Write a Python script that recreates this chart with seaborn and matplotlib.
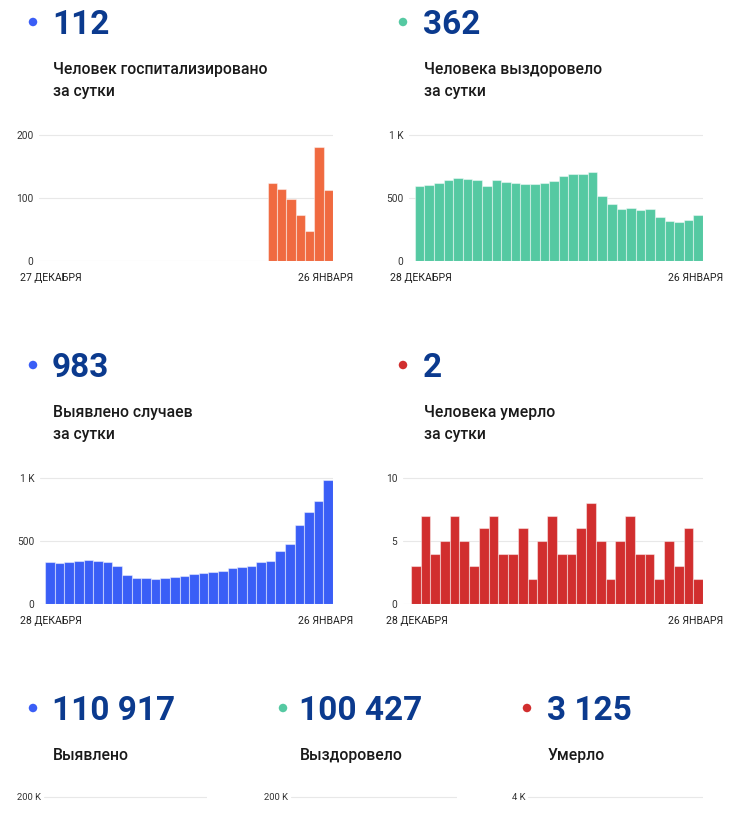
import numpy as np
import pandas as pd
import matplotlib
matplotlib.use("Agg")
import matplotlib.pyplot as plt
import seaborn as sns
from matplotlib.patches import Ellipse

# ---- data ----
days_dec27 = pd.date_range("2020-12-27", "2021-01-26").strftime("%d.%m").tolist()   # 31 days
days_dec28 = days_dec27[1:]                                                        # 30 days

hosp_days = days_dec27[-7:]
hosp_vals = [123, 114, 98, 73, 48, 181, 112]

recov_vals = [592, 603, 621, 642, 661, 653, 642, 597, 639, 626,
              621, 613, 608, 616, 637, 671, 687, 689, 705, 513,
              450, 411, 416, 403, 408, 347, 318, 308, 324, 362]

cases_vals = [329, 326, 334, 339, 347, 339, 332, 300, 232, 203,
              205, 200, 203, 213, 224, 234, 245, 253, 261, 282,
              292, 303, 329, 339, 418, 474, 624, 729, 813, 983]

death_vals = [3, 7, 4, 5, 7, 5, 3, 6, 7, 4,
              4, 6, 2, 5, 7, 4, 4, 6, 8, 5,
              2, 5, 7, 4, 4, 2, 5, 3, 6, 2]

head_numbers = ["112", "362", "983", "2"]
head_labels = [["Человек госпитализировано", "за сутки"],
               ["Человека выздоровело", "за сутки"],
               ["Выявлено случаев", "за сутки"],
               ["Человека умерло", "за сутки"]]
date_first = ["27 ДЕКАБРЯ", "28 ДЕКАБРЯ", "28 ДЕКАБРЯ", "28 ДЕКАБРЯ"]
date_last = "26 ЯНВАРЯ"

total_numbers = ["110 917", "100 427", "3 125"]
total_labels = ["Выявлено", "Выздоровело", "Умерло"]
total_ticks = [200000, 200000, 4000]
total_ticklabels = ["200 K", "200 K", "4 K"]

# ---- colours ----
navy = "#0b3a8e"
c_orange = "#f06a40"
c_green = "#55c9a2"
c_blue = "#3a5ef6"
c_red = "#d12e2e"
grid_c = "#e8e8e8"

sns.set_theme(style="white")
plt.rcParams['font.family'] = ['Roboto', 'DejaVu Sans']

W, H = 743, 819
fig = plt.figure(figsize=(W / 100, H / 100), dpi=100)
fig.patch.set_facecolor("white")


def px_axes(x0, y0, x1, y1):
    return fig.add_axes([x0 / W, 1 - y1 / H, (x1 - x0) / W, (y1 - y0) / H])


def dot(x, y, color):
    fig.add_artist(Ellipse((x / W, 1 - y / H), 8.5 / W, 8.5 / H,
                           transform=fig.transFigure, color=color, lw=0))


def header(x_dot, x_txt, base, num, lines, dot_color):
    dot(x_dot, base - 12, dot_color)
    fig.text(x_txt / W, 1 - base / H, num, fontsize=24, fontweight="bold",
             color=navy, va="baseline", ha="left")
    for k, ln in enumerate(lines):
        fig.text((x_txt + 1) / W, 1 - (base + 40 + 22 * k) / H, ln, fontsize=11.3,
                 fontweight="medium", color="#1a1a1a", va="baseline", ha="left")


def style_axes(ax, ticks, labels, top, pad, n):
    ax.set_ylim(0, top * 1.006)
    ax.set_yticks(ticks)
    ax.set_yticklabels(labels)
    ax.set_xlim(-0.5 - pad, n - 0.5)
    ax.set_xticks([])
    ax.set_xlabel("")
    ax.set_ylabel("")
    ax.tick_params(axis="y", length=0, pad=4, labelsize=7.3, labelcolor="#333333")
    ax.yaxis.grid(True, color=grid_c, lw=0.8)
    ax.set_axisbelow(True)
    for s in ax.spines.values():
        s.set_visible(False)
    ax.patch.set_alpha(0)


def bars(ax, x, y, order, color):
    sns.barplot(x=x, y=y, order=order, ax=ax, color=color, saturation=1,
                width=1, edgecolor=(1, 1, 1, 0.45), linewidth=0.8)


# ---- four daily charts ----
charts = [
    # (axes box, x, y, order, colour, ticks, labels, top, pad, label-left, label-right)
    ((39, 134, 333, 261), hosp_days, hosp_vals, days_dec27, c_orange,
     [0, 100, 200], ["0", "100", "200"], 200, 0.55, 20, 353),
    ((409, 134, 703, 261), days_dec28, recov_vals, days_dec28, c_green,
     [0, 500, 1000], ["0", "500", "1 K"], 1000, 0.6, 390, 723),
    ((40, 477, 333, 604), days_dec28, cases_vals, days_dec28, c_blue,
     [0, 500, 1000], ["0", "500", "1 K"], 1000, 0.55, 20, 353),
    ((403, 477, 703, 604), days_dec28, death_vals, days_dec28, c_red,
     [0, 5, 10], ["0", "5", "10"], 10, 0.8, 386, 723),
]
dot_colors = [c_blue, c_green, c_blue, c_red]
head_pos = [(33, 52, 34), (403, 423, 34), (33, 52, 377), (403, 423, 377)]

for i, (box, x, y, order, col, ticks, labs, top, pad, lx, rx) in enumerate(charts):
    ax = px_axes(*box)
    bars(ax, x, y, order, col)
    style_axes(ax, ticks, labs, top, pad, len(order))
    xd, xt, base = head_pos[i]
    header(xd, xt, base, head_numbers[i], head_labels[i], dot_colors[i])
    yb = box[3] + 20
    fig.text(lx / W, 1 - yb / H, date_first[i], fontsize=7.6, color="#222222",
             ha="left", va="baseline")
    fig.text(rx / W, 1 - yb / H, date_last, fontsize=7.6, color="#222222",
             ha="right", va="baseline")

# ---- bottom cumulative block (only its top gridline is visible) ----
tot_dots = [(33, 52), (283, 299), (527, 547)]
tot_colors = [c_blue, c_green, c_red]
tot_boxes = [(44, 796, 207, 923), (291, 796, 457, 923), (528, 796, 703, 923)]
for j in range(3):
    xd, xt = tot_dots[j]
    header(xd, xt, 720, total_numbers[j], [total_labels[j]], tot_colors[j])
    ax = px_axes(*tot_boxes[j])
    top = total_ticks[j]
    ax.set_ylim(0, top * 1.006)
    ax.set_yticks([top])
    ax.set_yticklabels([total_ticklabels[j]])
    ax.set_xticks([])
    ax.tick_params(axis="y", length=0, pad=2, labelsize=6.8, labelcolor="#333333")
    ax.yaxis.grid(True, color=grid_c, lw=0.8)
    for s in ax.spines.values():
        s.set_visible(False)
    ax.patch.set_alpha(0)

fig.savefig("out.png", dpi=100, facecolor="white")
